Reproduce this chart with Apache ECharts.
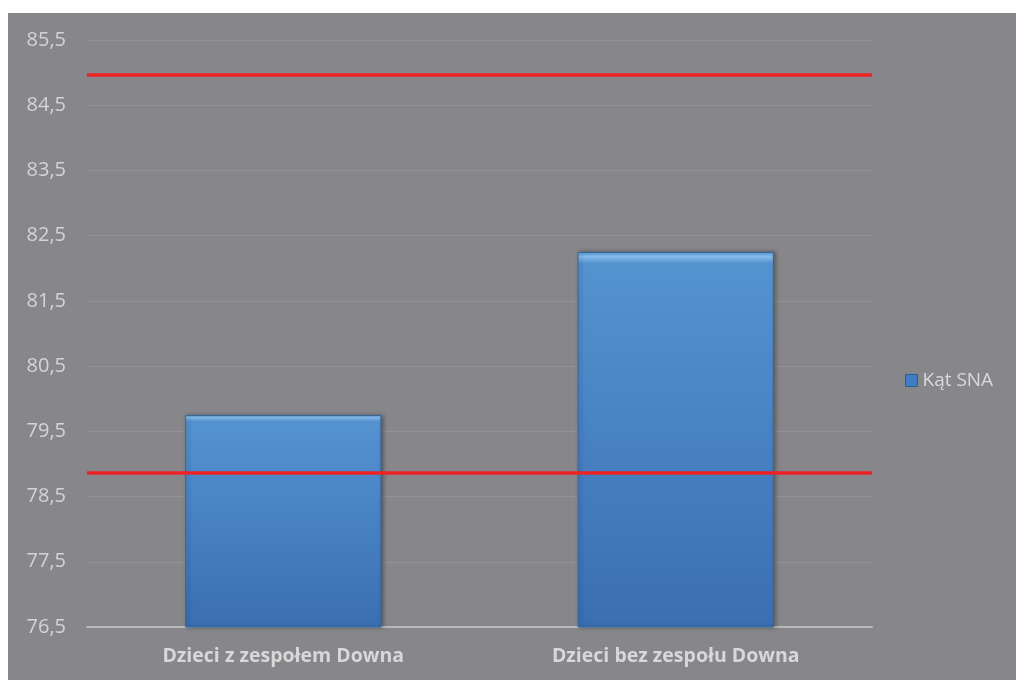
<!DOCTYPE html>
<html>
<head>
<meta charset="utf-8">
<script src="https://cdn.jsdelivr.net/npm/echarts@6/dist/echarts.min.js"></script>
<style>
  html, body { margin: 0; padding: 0; background: #ffffff; }
  #chart { position: absolute; left: 8px; top: 13px; width: 1008px; height: 667px; }
</style>
</head>
<body>
<div id="chart"></div>
<script>
// Categories and measured SNA angle (degrees)
const categories = ['Dzieci z zespołem Downa', 'Dzieci bez zespołu Downa'];
const sna = [79.75, 82.25];
// Reference range limits drawn as red horizontal lines
const normLimits = [78.87, 84.97];
// Value axis range; labels are shown every 1.0 starting at 76,5
const yMin = 76.5;
const yMax = 85.5;
const labelStep = 1;

const chart = echarts.init(document.getElementById('chart'));

const fmt = v => v.toFixed(1).replace('.', ',');
const isLabelTick = v => Math.abs(((v - yMin) / labelStep) - Math.round((v - yMin) / labelStep)) < 1e-6;

chart.setOption({
  backgroundColor: '#87878b',
  animation: false,
  grid: { left: 79, right: 144, top: 27, bottom: 53 },
  legend: {
    left: 892,
    top: 353,
    itemWidth: 12,
    itemHeight: 12,
    itemGap: 8,
    textStyle: { color: '#dadada', fontSize: 19, fontFamily: 'Open Sans' },
    data: [{ name: 'Kąt SNA', icon: 'rect', itemStyle: { color: '#3f7cc4', borderColor: '#2d5d96', borderWidth: 1 } }]
  },
  xAxis: {
    type: 'category',
    data: categories,
    axisTick: { show: false },
    axisLine: { lineStyle: { color: '#b8b8ba', width: 2 } },
    axisLabel: {
      color: '#d8d8d8',
      fontSize: 19.5,
      fontWeight: 'bold',
      fontFamily: 'Open Sans',
      margin: 19
    }
  },
  yAxis: {
    type: 'value',
    min: yMin,
    max: yMax,
    interval: labelStep / 2,
    axisLine: { show: false },
    axisTick: { show: false },
    splitLine: { lineStyle: { color: ['#939397', 'rgba(0,0,0,0)'], width: 1 } },
    axisLabel: {
      color: '#d4d4d4',
      fontSize: 20,
      fontFamily: 'Open Sans',
      margin: 21,
      formatter: v => (isLabelTick(v) ? fmt(v) : '')
    }
  },
  series: [{
    name: 'Kąt SNA',
    type: 'bar',
    data: sna,
    barWidth: '50%',
    itemStyle: {
      color: new echarts.graphic.LinearGradient(0, 0, 0, 1, [
        { offset: 0, color: '#5c9ad6' },
        { offset: 0.012, color: '#86bdec' },
        { offset: 0.03, color: '#5592d0' },
        { offset: 0.3, color: '#4d89c9' },
        { offset: 1, color: '#3a6fb2' }
      ]),
      borderColor: '#3566a0',
      borderWidth: 1,
      shadowColor: 'rgba(0,0,0,0.35)',
      shadowBlur: 4,
      shadowOffsetX: 2,
      shadowOffsetY: 0
    },
    markLine: {
      silent: true,
      symbol: 'none',
      label: { show: false },
      lineStyle: { color: '#ee2124', width: 3.5, type: 'solid' },
      data: normLimits.map(v => ({ yAxis: v }))
    }
  }]
});
</script>
</body>
</html>
